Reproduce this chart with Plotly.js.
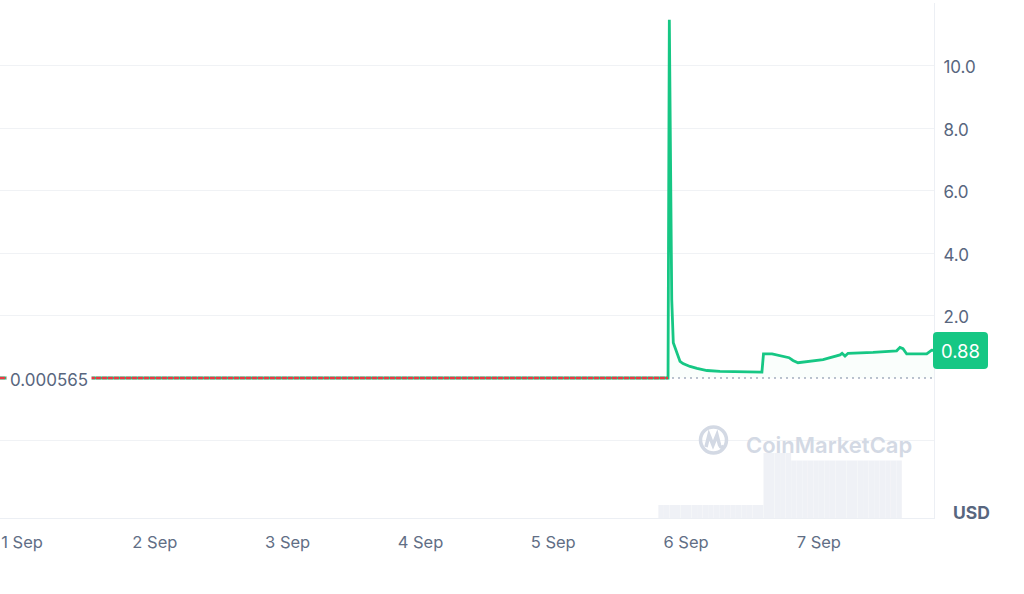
<!DOCTYPE html>
<html>
<head>
<meta charset="utf-8">
<script src="https://cdn.plot.ly/plotly-3.0.1.min.js"></script>
<style>
  html, body { margin: 0; padding: 0; background: #ffffff; }
  #chart { width: 1024px; height: 594px; }
</style>
</head>
<body>
<div id="chart"></div>
<script>
// ---- Price series (USD) ----
const priceTimes = [
  '2023-08-31 20:00', '2023-09-05 20:45', '2023-09-05 20:59', '2023-09-05 21:25',
  '2023-09-05 21:42', '2023-09-05 22:00', '2023-09-05 22:19', '2023-09-05 22:55',
  '2023-09-05 23:27', '2023-09-06 00:43', '2023-09-06 01:59', '2023-09-06 03:47',
  '2023-09-06 06:08', '2023-09-06 09:46', '2023-09-06 13:43', '2023-09-06 14:00',
  '2023-09-06 15:33', '2023-09-06 18:37', '2023-09-06 19:20', '2023-09-06 20:14',
  '2023-09-06 21:48', '2023-09-07 00:46', '2023-09-07 03:50', '2023-09-07 04:12',
  '2023-09-07 04:44', '2023-09-07 05:17', '2023-09-07 09:48', '2023-09-07 14:04',
  '2023-09-07 14:40', '2023-09-07 15:13', '2023-09-07 15:53', '2023-09-07 18:17',
  '2023-09-07 19:30', '2023-09-07 20:24', '2023-09-07 20:49'
];
const priceValues = [
  0.000565, 0.000565, 11.46, 2.51,
  1.13, 0.98, 0.85, 0.53,
  0.46, 0.37, 0.31, 0.24,
  0.21, 0.19, 0.19, 0.77,
  0.77, 0.65, 0.56, 0.49,
  0.52, 0.59, 0.74, 0.79,
  0.70, 0.79, 0.82, 0.87,
  0.98, 0.94, 0.77, 0.77,
  0.77, 0.89, 0.88
];
const flatEndIndex = 1;          // last point of the flat stretch before the spike
const basePrice = 0.000565;       // reference (opening) price
const lastLabel = '0.88';
const baseLabel = '0.000565';

// ---- Volume (hourly bars, starting times) ----
const volTimes = [
  '2023-09-05 19:00','2023-09-05 20:00','2023-09-05 21:00','2023-09-05 22:00','2023-09-05 23:00',
  '2023-09-06 00:00','2023-09-06 01:00','2023-09-06 02:00','2023-09-06 03:00','2023-09-06 04:00',
  '2023-09-06 05:00','2023-09-06 06:00','2023-09-06 07:00','2023-09-06 08:00','2023-09-06 09:00',
  '2023-09-06 10:00','2023-09-06 11:00','2023-09-06 12:00','2023-09-06 13:00','2023-09-06 14:00',
  '2023-09-06 15:00','2023-09-06 16:00','2023-09-06 17:00','2023-09-06 18:00','2023-09-06 19:00',
  '2023-09-06 20:00','2023-09-06 21:00','2023-09-06 22:00','2023-09-06 23:00','2023-09-07 00:00',
  '2023-09-07 01:00','2023-09-07 02:00','2023-09-07 03:00','2023-09-07 04:00','2023-09-07 05:00',
  '2023-09-07 06:00','2023-09-07 07:00','2023-09-07 08:00','2023-09-07 09:00','2023-09-07 10:00',
  '2023-09-07 11:00','2023-09-07 12:00','2023-09-07 13:00','2023-09-07 14:00'
];
const volValues = [
  1300,1300,1300,1300,1300, 1300,1300,1300,1300,1300,
  1300,1300,1300,1300,1300, 1300,1300,1300,1300,6500,
  6500,6500,6500,6500,5750, 5750,5750,5750,5750,5750,
  5750,5750,5750,5750,5750, 5750,5750,5750,5750,5750,
  5750,5750,5750,5750
];

// ---- Axis ticks ----
const xTickVals = ['2023-09-01','2023-09-02','2023-09-03','2023-09-04','2023-09-05','2023-09-06','2023-09-07'];
const xTickText = ['1 Sep','2 Sep','3 Sep','4 Sep','5 Sep','6 Sep','7 Sep'];
const yTickVals = [-2, 2, 4, 6, 8, 10, 12];
const yTickText = ['', '2.0', '4.0', '6.0', '8.0', '10.0', ''];

const GREEN = '#16c784', RED = '#ea3943';
const FONT = 'Inter, "Open Sans", sans-serif';

const xStart = '2023-08-31 20:01', xEnd = '2023-09-07 20:49';
const yMin = -4.48, yMax = 12;

const traces = [
  {
    type: 'bar', x: volTimes, y: volValues, yaxis: 'y2',
    offset: 0, width: 3600000,
    marker: { color: '#eff1f6', line: { color: 'rgba(255,255,255,0.35)', width: 0.3 } },
    hoverinfo: 'skip', showlegend: false
  },
  {
    type: 'scatter', mode: 'lines',
    x: [priceTimes[0], priceTimes[priceTimes.length - 1]], y: [basePrice, basePrice],
    line: { width: 0, color: 'rgba(0,0,0,0)' }, hoverinfo: 'skip', showlegend: false
  },
  {
    type: 'scatter', mode: 'lines', x: priceTimes, y: priceValues,
    fill: 'tonexty', fillcolor: 'rgba(22,199,132,0.025)',
    line: { color: GREEN, width: 2.8 }, hoverinfo: 'skip', showlegend: false
  },
  {
    type: 'scatter', mode: 'lines',
    x: priceTimes.slice(0, flatEndIndex + 1), y: priceValues.slice(0, flatEndIndex + 1),
    line: { color: RED, width: 2.6, dash: '5px,1px' }, hoverinfo: 'skip', showlegend: false
  }
];

// pixel helpers for decorations (plot area: x 0..934, y 3..518)
const PW = 934, PT = 3, PB = 518;
const px = v => v / PW;
const py = v => (PB - v) / (PB - PT);

const last = priceValues[priceValues.length - 1];
const pxPerUnit = (PB - PT) / (yMax - yMin);
const bh = 18.5 / pxPerUnit, br = 4 / pxPerUnit;
const bx0 = px(933), bx1 = px(988), bxr = 4 / PW;
const boxPath = `M ${bx0 + bxr} ${last + bh} L ${bx1 - bxr} ${last + bh} Q ${bx1} ${last + bh} ${bx1} ${last + bh - br} ` +
  `L ${bx1} ${last - bh + br} Q ${bx1} ${last - bh} ${bx1 - bxr} ${last - bh} ` +
  `L ${bx0 + bxr} ${last - bh} Q ${bx0} ${last - bh} ${bx0} ${last - bh + br} ` +
  `L ${bx0} ${last + bh - br} Q ${bx0} ${last + bh} ${bx0 + bxr} ${last + bh} Z`;

const logoPath = `M ${px(706)} ${py(447)} L ${px(709)} ${py(435)} L ${px(713)} ${py(445)} L ${px(717)} ${py(435)} L ${px(719.5)} ${py(445)} Q ${px(721)} ${py(449)} ${px(724)} ${py(446)}`;

const layout = {
  width: 1024, height: 594,
  margin: { l: 0, r: 90, t: 3, b: 76, pad: 0 },
  paper_bgcolor: '#ffffff', plot_bgcolor: '#ffffff',
  showlegend: false, hovermode: false, bargap: 0,
  xaxis: {
    type: 'date', range: [xStart, xEnd],
    tickmode: 'array', tickvals: xTickVals, ticktext: xTickText,
    showgrid: false, zeroline: false, showline: true, linecolor: '#eceff4', linewidth: 1,
    ticks: '', ticklabelstandoff: 9,
    tickfont: { family: FONT, size: 16.5, color: '#616e85' }, fixedrange: true
  },
  yaxis: {
    side: 'right', range: [yMin, yMax],
    tickmode: 'array', tickvals: yTickVals, ticktext: yTickText,
    showgrid: true, gridcolor: '#f0f2f5', gridwidth: 1,
    zeroline: false, showline: true, linecolor: '#eceff4', linewidth: 1,
    ticks: '', ticklabelstandoff: 5, ticklabelshift: 2,
    tickfont: { family: FONT, size: 17, color: '#58667e' }, fixedrange: true
  },
  yaxis2: { overlaying: 'y', range: [0, 51500], visible: false, fixedrange: true },
  shapes: [
    { type: 'line', xref: 'paper', yref: 'y', x0: 0, x1: 1, y0: basePrice, y1: basePrice,
      line: { color: '#a6aec0', width: 1.5, dash: '2px,4px' }, layer: 'below' },
    { type: 'circle', xref: 'paper', yref: 'paper', x0: px(700.5), x1: px(726.5), y0: py(453), y1: py(427),
      line: { color: '#d3d9e4', width: 3.5 }, layer: 'above' },
    { type: 'path', xref: 'paper', yref: 'paper', path: logoPath,
      line: { color: '#d3d9e4', width: 3.5 }, layer: 'above' },
    { type: 'path', xref: 'paper', yref: 'y', path: boxPath,
      fillcolor: GREEN, line: { width: 0 }, layer: 'above' }
  ],
  annotations: [
    { xref: 'paper', yref: 'paper', x: px(829), y: py(445), text: 'CoinMarketCap', showarrow: false,
      font: { family: FONT, size: 22, color: '#d3d9e4', weight: 600 }, xanchor: 'center', yanchor: 'middle' },
    { xref: 'paper', yref: 'y', x: px(960.5), y: last, text: lastLabel, showarrow: false,
      font: { family: FONT, size: 18.5, color: '#ffffff' }, xanchor: 'center', yanchor: 'middle' },
    { xref: 'paper', yref: 'y', x: px(6), y: basePrice, yshift: -2, text: baseLabel, showarrow: false,
      bgcolor: '#ffffff', borderpad: 3,
      font: { family: FONT, size: 17, color: '#58667e' }, xanchor: 'left', yanchor: 'middle' },
    { xref: 'paper', yref: 'paper', x: px(971), y: py(512), text: 'USD', showarrow: false,
      font: { family: FONT, size: 17.5, color: '#58667e', weight: 700 }, xanchor: 'center', yanchor: 'middle' }
  ]
};

Plotly.newPlot('chart', traces, layout, { displayModeBar: false, staticPlot: true });
</script>
</body>
</html>
